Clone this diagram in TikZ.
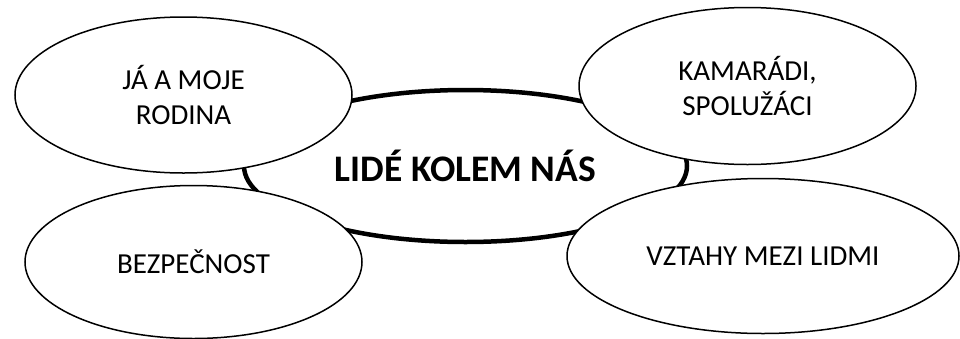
\documentclass[tikz,border=0pt]{standalone}
\usepackage{fontspec}
\setmainfont{Carlito}
\usetikzlibrary{shapes.geometric}
\begin{document}
\begin{tikzpicture}[x=1pt,y=-1pt,
  hub/.style={ellipse, draw=black, fill=white, line width=4.5pt, inner sep=0pt, align=center,
    font=\fontsize{37.5}{45}\selectfont\bfseries},
  topic/.style={ellipse, draw=black, fill=white, line width=1.5pt, inner sep=0pt, align=center,
    font=\fontsize{29}{35}\selectfont}]
\useasboundingbox (0,0) rectangle (960,338);
\node[hub, minimum width=443pt, minimum height=152pt] (hub) at (465.5,166) {LIDÉ KOLEM NÁS};
\node[topic, minimum width=337pt, minimum height=156pt] (rodina) at (183.5,95) {JÁ A MOJE\\RODINA};
\node[topic, minimum width=337pt, minimum height=153pt] (bezp) at (193.5,262) {BEZPEČNOST};
\node[topic, minimum width=337pt, minimum height=157pt] (kam) at (747.5,86) {KAMARÁDI,\\SPOLUŽÁCI};
\node[topic, minimum width=392pt, minimum height=155pt] (vztahy) at (763,256) {VZTAHY MEZI LIDMI};
\end{tikzpicture}
\end{document}
